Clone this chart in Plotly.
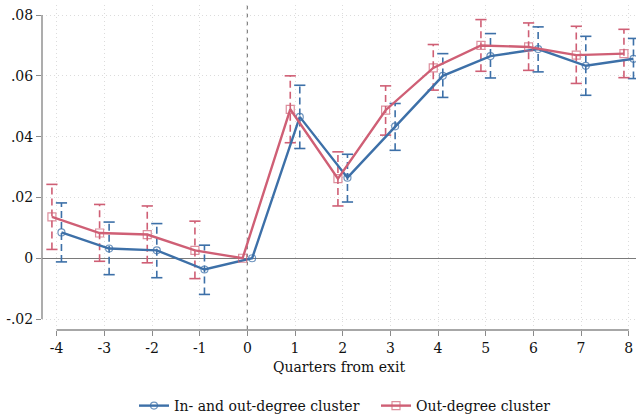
import plotly.graph_objects as go

# Event-time coefficients (quarters relative to exit) with 95% confidence bounds
quarters = [-4, -3, -2, -1, 0, 1, 2, 3, 4, 5, 6, 7, 8]

inout_coef = [0.0085, 0.0032, 0.0026, -0.0037, 0.0, 0.0465, 0.0265, 0.0434, 0.0600, 0.0665, 0.0688, 0.0633, 0.0656]
inout_hi = [0.0182, 0.0119, 0.0114, 0.0043, None, 0.0569, 0.0342, 0.0509, 0.0673, 0.0739, 0.0761, 0.0730, 0.0723]
inout_lo = [-0.0012, -0.0054, -0.0064, -0.0119, None, 0.0361, 0.0185, 0.0355, 0.0529, 0.0593, 0.0613, 0.0536, 0.0591]

out_coef = [0.0136, 0.0083, 0.0078, 0.0026, 0.0, 0.0490, 0.0262, 0.0487, 0.0626, 0.0700, 0.0695, 0.0668, 0.0673]
out_hi = [0.0243, 0.0177, 0.0172, 0.0122, None, 0.0600, 0.0350, 0.0567, 0.0703, 0.0785, 0.0774, 0.0763, 0.0753]
out_lo = [0.0029, -0.0010, -0.0015, -0.0067, None, 0.0380, 0.0172, 0.0405, 0.0553, 0.0615, 0.0618, 0.0575, 0.0594]

ytick_vals = [-0.02, 0, 0.02, 0.04, 0.06, 0.08]
ytick_text = ["-.02", "0", ".02", ".04", ".06", ".08"]

series = [
    dict(name="In- and out-degree cluster", coef=inout_coef, lo=inout_lo, hi=inout_hi,
         shift=0.1, color="#3d70a8", mcolor="rgba(61,112,168,0.75)", symbol="circle-open", msize=7),
    dict(name="Out-degree cluster", coef=out_coef, lo=out_lo, hi=out_hi,
         shift=-0.1, color="#cf5f75", mcolor="rgba(207,95,117,0.7)", symbol="square-open", msize=8),
]

FONT = "DejaVu Serif"
FS = 14
fig = go.Figure()

# Dashed confidence intervals with caps
for s in series:
    xs, ys, cx, cy = [], [], [], []
    for q, lo, hi in zip(quarters, s["lo"], s["hi"]):
        if lo is None:
            continue
        x = q + s["shift"]
        xs += [x, x, None]
        ys += [lo, hi, None]
        cx += [x, x]
        cy += [lo, hi]
    fig.add_trace(go.Scatter(x=xs, y=ys, mode="lines", showlegend=False, hoverinfo="skip",
                             line=dict(color=s["color"], width=1.6, dash="7px,4px")))
    fig.add_trace(go.Scatter(x=cx, y=cy, mode="markers", showlegend=False, hoverinfo="skip",
                             marker=dict(symbol="line-ew", size=8,
                                         line=dict(color=s["color"], width=1.6))))

# Point estimates
for s in series:
    fig.add_trace(go.Scatter(
        x=[q + s["shift"] for q in quarters], y=s["coef"], name=s["name"],
        mode="lines+markers",
        line=dict(color=s["color"], width=2.4),
        marker=dict(symbol=s["symbol"], size=s["msize"], color=s["mcolor"],
                    line=dict(color=s["mcolor"], width=1.2)),
    ))

axis_gray = "#8a8a8a"
grid_col = "#dcdcdc"
shapes = [
    # exit quarter marker
    dict(type="line", xref="x", yref="paper", x0=0, x1=0, y0=0, y1=1,
         line=dict(color="#808080", width=1.2, dash="5px,3px"), layer="below"),
    # y axis line spanning the tick range
    dict(type="line", xref="paper", yref="y", x0=0, x1=0, y0=-0.02, y1=0.08,
         line=dict(color=axis_gray, width=1.4)),
    # x axis line spanning the tick range
    dict(type="line", xref="x", yref="paper", x0=-4, x1=8, y0=0, y1=0,
         line=dict(color=axis_gray, width=1.4)),
]

fig.update_layout(
    width=636, height=416,
    margin=dict(l=42, r=0, t=5, b=86, autoexpand=False),
    paper_bgcolor="white", plot_bgcolor="white",
    font=dict(family=FONT, size=FS, color="#111111"),
    shapes=shapes,
    xaxis=dict(
        range=[-4.308, 8.153], tickmode="array", tickvals=quarters,
        ticktext=[str(q) for q in quarters],
        showline=False, zeroline=False,
        showgrid=True, gridcolor=grid_col, gridwidth=1, griddash="1px,3px",
        ticks="outside", ticklen=5, tickcolor=axis_gray, tickwidth=1.2,
        tickfont=dict(family=FONT, size=FS),
        title=dict(text="Quarters from exit", font=dict(family=FONT, size=FS), standoff=7),
    ),
    yaxis=dict(
        range=[-0.0236, 0.0833], tickmode="array", tickvals=ytick_vals, ticktext=ytick_text,
        showline=False,
        zeroline=True, zerolinecolor="#7a7a7a", zerolinewidth=1.3,
        showgrid=True, gridcolor=grid_col, gridwidth=1, griddash="1px,3px",
        ticks="outside", ticklen=5, tickcolor=axis_gray, tickwidth=1.2,
        tickfont=dict(family=FONT, size=FS),
    ),
    legend=dict(
        orientation="h", x=(134 - 42) / 594, xanchor="left", xref="paper",
        y=0.024, yanchor="middle", yref="container",
        font=dict(family=FONT, size=FS), itemwidth=30,
        entrywidth=197, entrywidthmode="pixels",
        traceorder="normal",
    ),
)

fig.write_html("out.html")
